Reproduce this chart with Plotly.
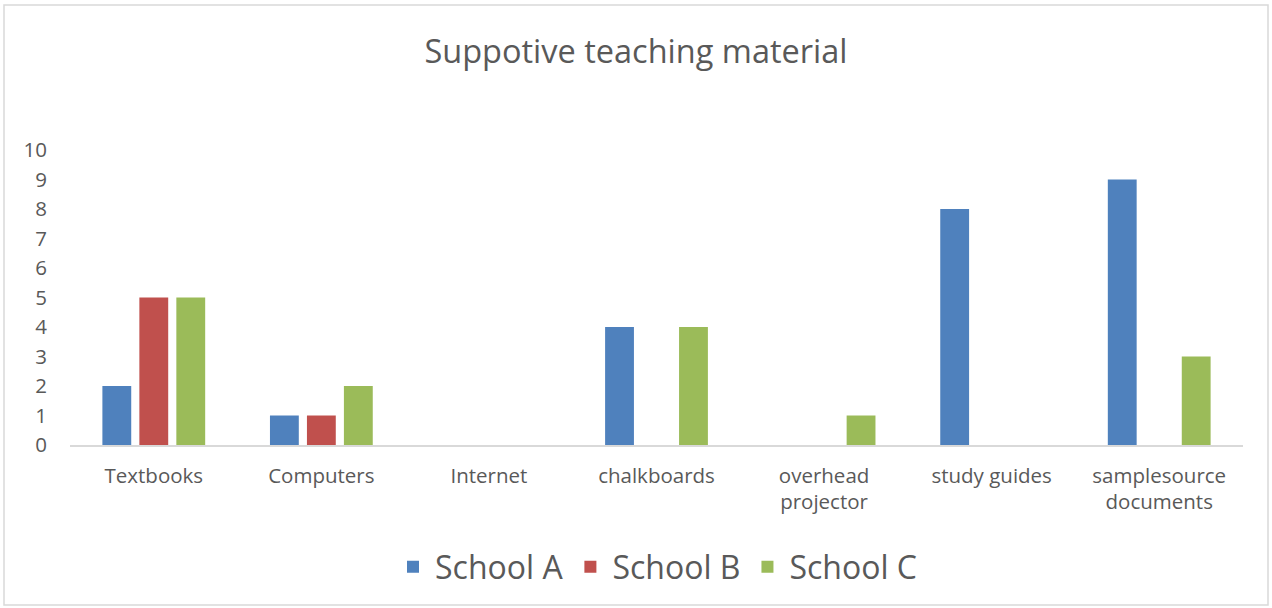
import plotly.graph_objects as go

categories = ["Textbooks", "Computers", "Internet", "chalkboards",
              "overhead<br>projector", "study guides", "samplesource<br>documents"]
school_a = [2, 1, None, 4, None, 8, 9]
school_b = [5, 1, None, None, None, None, None]
school_c = [5, 2, None, 4, 1, None, 3]
series_names = ["School A", "School B", "School C"]
colors = ["#4F81BD", "#C0504D", "#9BBB59"]

fig = go.Figure()
for name, vals, col in zip(series_names, [school_a, school_b, school_c], colors):
    fig.add_trace(go.Bar(x=categories, y=vals, name=name, marker_color=col,
                         marker_line_width=0, legendgroup=name))

FONT = "'Open Sans', 'Liberation Sans', sans-serif"
GREY = "#595959"
fig.update_layout(
    width=1272, height=608,
    margin=dict(l=70, r=29, t=150, b=163),
    paper_bgcolor="white", plot_bgcolor="white",
    barmode="group", bargap=0.338, bargroupgap=0.22,
    title=dict(text="Suppotive teaching material", x=0.5, xanchor="center",
               y=1 - 52 / 608, yanchor="middle",
               font=dict(family=FONT, size=32.5, color=GREY)),
    font=dict(family=FONT, color=GREY),
    xaxis=dict(showline=True, linecolor="#D9D9D9", linewidth=2, showgrid=False,
               ticks="", tickfont=dict(size=20.5, color=GREY), ticklabelstandoff=11),
    yaxis=dict(range=[0, 10], dtick=1, showgrid=False, zeroline=False, showline=False,
               tickfont=dict(size=20.5, color=GREY), ticklabelstandoff=22),
    legend=dict(orientation="h", x=0.5, xanchor="center", y=-0.4136, yanchor="middle",
                font=dict(size=32, color=GREY), itemwidth=34, tracegroupgap=14),
    shapes=[dict(type="rect", xref="paper", yref="paper",
                 x0=(4 - 70) / 1173, x1=(1268 - 70) / 1173,
                 y0=(445 - 605) / 295, y1=(445 - 5) / 295,
                 line=dict(color="#D9D9D9", width=1.5), layer="below")],
)
fig.write_html("out.html")
